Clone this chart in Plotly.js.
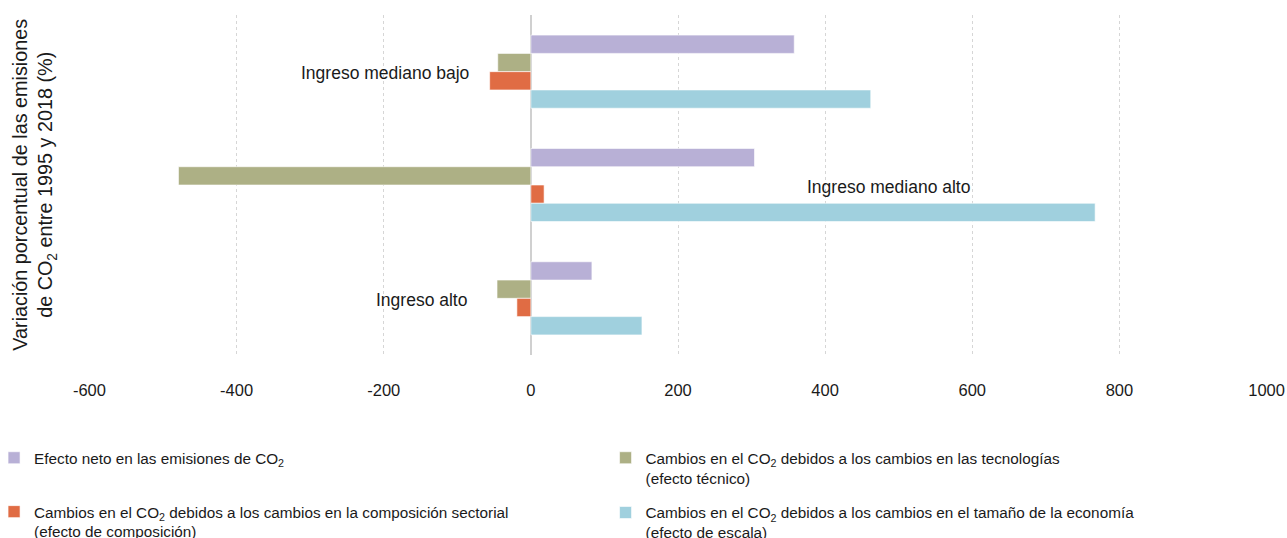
<!DOCTYPE html>
<html>
<head>
<meta charset="utf-8">
<script src="https://cdn.plot.ly/plotly-3.0.1.min.js"></script>
<style>html,body{margin:0;padding:0;background:#fff;}#chart{width:1287px;height:538px;}</style>
</head>
<body>
<div id="chart"></div>
<script>
const categories = ["Ingreso mediano bajo", "Ingreso mediano alto", "Ingreso alto"];
const seriesNames = [
  "Efecto neto en las emisiones de CO<sub>2</sub>",
  "Cambios en el CO<sub>2</sub> debidos a los cambios en las tecnologías<br>(efecto técnico)",
  "Cambios en el CO<sub>2</sub> debidos a los cambios en la composición sectorial<br>(efecto de composición)",
  "Cambios en el CO<sub>2</sub> debidos a los cambios en el tamaño de la economía<br>(efecto de escala)"
];
const netEffect = [358, 304, 83];
const techEffect = [-45, -479, -46];
const compositionEffect = [-56, 18, -19];
const scaleEffect = [462, 767, 151];
const tickValues = [-600, -400, -200, 0, 200, 400, 600, 800, 1000];
const tickLabels = ["-600", "-400", "-200", "0", "200", "400", "600", "800", "1000"];
const seriesValues = [netEffect, techEffect, compositionEffect, scaleEffect];
const colors = ["#b8b0d6", "#adb085", "#e06c44", "#a0d0de"];
const legendIds = ["legend", "legend2", "legend", "legend2"];

const FONT = "Liberation Sans, Arial, Helvetica, sans-serif";

const traces = seriesValues.map((vals, i) => ({
  type: "bar",
  orientation: "h",
  name: seriesNames[i],
  y: categories,
  x: vals,
  marker: {color: colors[i], line: {color: "rgba(255,255,255,0.6)", width: 1}},
  legend: legendIds[i],
  legendgroup: "g" + i,
  hoverinfo: "x+name"
}));

const labelPos = [
  {x: -81, xanchor: "right"},
  {x: 372, xanchor: "left"},
  {x: -84, xanchor: "right"}
];

const annotations = categories.map((c, i) => ({
  x: labelPos[i].x, y: c, xref: "x", yref: "y",
  text: c, showarrow: false, xanchor: labelPos[i].xanchor, yanchor: "middle", yshift: -1.5,
  font: {family: FONT, size: 17.5, color: "#1a1a1a"}
}));

annotations.push({
  xref: "paper", yref: "paper", x: -0.047, y: 0.5,
  xanchor: "center", yanchor: "middle", textangle: -90, showarrow: false,
  text: "Variación porcentual de las emisiones<br>de CO<sub>2</sub> entre 1995 y 2018 (%)",
  font: {family: FONT, size: 19.8, color: "#1a1a1a"}
});

const layout = {
  width: 1287, height: 538,
  margin: {l: 89, r: 20, t: 15, b: 183, autoexpand: false},
  paper_bgcolor: "#fff", plot_bgcolor: "#fff",
  barmode: "group", bargap: 0.355, bargroupgap: 0,
  font: {family: FONT, size: 15, color: "#1a1a1a"},
  xaxis: {
    range: [-600.6, 1000.6], tickmode: "array", tickvals: tickValues, ticktext: tickLabels,
    showgrid: true, gridcolor: "#d6d6d6", griddash: "3px,3px", gridwidth: 1,
    zeroline: true, zerolinecolor: "#d0d0d0", zerolinewidth: 2.5,
    showline: false, ticks: "", ticklabelstandoff: 23,
    tickfont: {family: FONT, size: 16.5, color: "#1a1a1a"}, fixedrange: true,
    automargin: false
  },
  yaxis: {
    type: "category", autorange: "reversed", automargin: false,
    showticklabels: false, showgrid: false, zeroline: false, showline: false, ticks: ""
  },
  showlegend: true,
  legend: {
    orientation: "v", xref: "paper", yref: "paper",
    x: -0.0806, y: -0.2538, xanchor: "left", yanchor: "top",
    traceorder: "grouped", tracegroupgap: 31, valign: "top",
    font: {family: FONT, size: 15.3, color: "#1a1a1a"}, bgcolor: "rgba(0,0,0,0)"
  },
  legend2: {
    orientation: "v", xref: "paper", yref: "paper",
    x: 0.4385, y: -0.2538, xanchor: "left", yanchor: "top",
    traceorder: "grouped", tracegroupgap: 12, valign: "top",
    font: {family: FONT, size: 15.3, color: "#1a1a1a"}, bgcolor: "rgba(0,0,0,0)"
  },
  annotations: annotations
};

Plotly.newPlot("chart", traces, layout, {displayModeBar: false, staticPlot: true});
</script>
</body>
</html>
